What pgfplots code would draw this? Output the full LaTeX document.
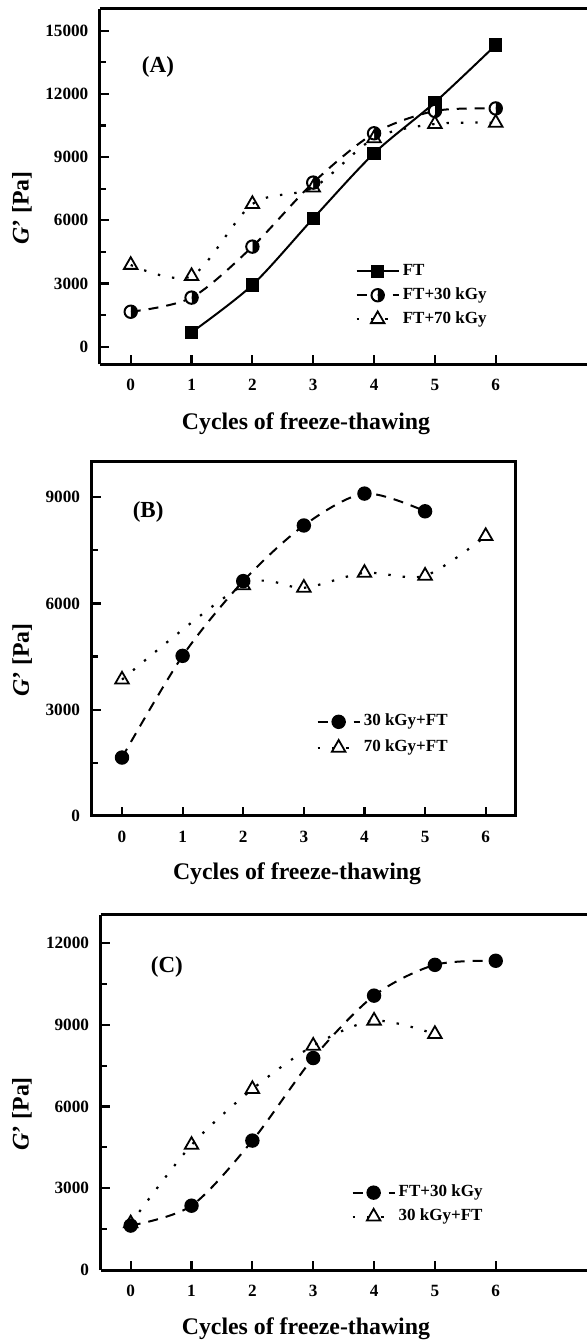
\documentclass[border=0pt]{standalone}
\usepackage{fontspec}
\setmainfont{Liberation Serif}
\usepackage{pgfplots}
\pgfplotsset{compat=1.18}
\usetikzlibrary{plotmarks}

\pgfplotsset{
  panel/.style={
    scale only axis, anchor=south west,
    tick align=inside,
    axis line style={line width=1.5pt},
    major tick length=4.5pt, minor tick length=3pt,
    every tick/.style={black, line width=1.1pt},
    xtick={0,1,2,3,4,5,6},
    minor y tick num=1,
    tick pos=left,
    scaled y ticks=false,
    /pgf/number format/1000 sep={},
    /pgf/number format/assume math mode=true,
    ticklabel style={font=\bfseries\fontsize{8.6}{9}\selectfont},
    xticklabel style={yshift=-4pt},
    yticklabel style={xshift=-2.3pt},
    xlabel={Cycles of freeze-thawing},
    ylabel={\textit{G}' [Pa]},
    label style={font=\bfseries\fontsize{11.9}{13}\selectfont},
    legend cell align=left,
    legend style={draw=none, fill=none, anchor=north west, inner sep=0pt,
      font=\bfseries\fontsize{8.5}{10}\selectfont,
      nodes={inner sep=1.5pt, text height=6pt, text depth=2pt}},
  },
  sA/.style={black, line width=1pt, smooth, mark=square*, mark size=2.8pt, mark options={solid}},
  sHalf/.style={black, line width=1pt, smooth, dash pattern=on 5pt off 4pt, mark=halfcircle*, mark size=3.1pt, mark options={solid, rotate=-90, fill=black}},
  sCirc/.style={black, line width=1pt, smooth, dash pattern=on 5pt off 4pt, mark=*, mark size=3.1pt, mark options={solid, fill=black}},
  sTri/.style={black, line width=1.1pt, smooth, dash pattern=on 1.2pt off 6pt, mark=triangle, mark size=3.9pt, mark options={solid, line width=0.9pt}},
}

\begin{document}
\begin{tikzpicture}
\path[use as bounding box] (0,0) rectangle (293.5pt,670.5pt);

% ---------------- Panel A ----------------
\begin{axis}[panel,
  at={(50pt,488.35pt)}, width=243.5pt, height=177.65pt,
  axis x line*=box, axis y line*=left,
  xmin=-0.505, xmax=7.5, ymin=-835, ymax=16030,
  ytick={0,3000,6000,9000,12000,15000},
  xlabel style={at={(axis description cs:0.423,-0.166)}, anchor=center},
  ylabel style={at={(axis description cs:-0.160,0.44)}, anchor=center},
  legend style={at={(rel axis cs:0.524,0.294)}, row sep=1pt},
  legend image code/.code={\draw[mark repeat=2,mark phase=2,#1] plot coordinates {(0pt,0pt) (10.5pt,0pt) (21pt,0pt)};},
]
\addplot[sA] coordinates {(1,680) (2,2930) (3,6090) (4,9180) (5,11600) (6,14320)};
\addlegendentry{FT}
\addplot[sHalf] coordinates {(0,1660) (1,2330) (2,4750) (3,7790) (4,10130) (5,11190) (6,11310)};
\addlegendentry{FT+30 kGy}
\addplot[sTri] coordinates {(0,3880) (1,3350) (2,6770) (3,7550) (4,9890) (5,10570) (6,10630)};
\addlegendentry{FT+70 kGy}
\node[font=\bfseries\fontsize{11.5}{13}\selectfont] at (rel axis cs:0.119,0.837) {(A)};
\end{axis}

% ---------------- Panel B ----------------
\begin{axis}[panel,
  at={(45.85pt,262.5pt)}, width=212.15pt, height=177.15pt,
  xmin=-0.5, xmax=6.5, ymin=0, ymax=10000,
  ytick={0,3000,6000,9000},
  xlabel style={at={(axis description cs:0.484,-0.163)}, anchor=center},
  ylabel style={at={(axis description cs:-0.164,0.44)}, anchor=center},
  legend style={at={(rel axis cs:0.529,0.298)}, row sep=2pt},
  legend image code/.code={\draw[mark repeat=2,mark phase=2,#1] plot coordinates {(0pt,0pt) (10.5pt,0pt) (21pt,0pt)};},
]
\addplot[sCirc] coordinates {(0,1650) (1,4520) (2,6630) (3,8200) (4,9100) (5,8600)};
\addlegendentry{30 kGy+FT}
\addplot[sTri] coordinates {(0,3850) (2,6510) (3,6440) (4,6860) (5,6780) (6,7900)};
\addlegendentry{70 kGy+FT}
\node[font=\bfseries\fontsize{11.5}{13}\selectfont] at (rel axis cs:0.133,0.858) {(B)};
\end{axis}

% ---------------- Panel C ----------------
\begin{axis}[panel,
  at={(50.35pt,35.5pt)}, width=243.15pt, height=177.5pt,
  axis x line*=box, axis y line*=left,
  xmin=-0.493, xmax=7.5, ymin=0, ymax=13030,
  ytick={0,3000,6000,9000,12000},
  xlabel style={at={(axis description cs:0.422,-0.165)}, anchor=center},
  ylabel style={at={(axis description cs:-0.162,0.44)}, anchor=center},
  legend style={at={(rel axis cs:0.515,0.25)}, row sep=1pt},
  legend image code/.code={\draw[mark repeat=2,mark phase=2,#1] plot coordinates {(0pt,0pt) (10.5pt,0pt) (21pt,0pt)};},
]
\addplot[sCirc] coordinates {(0,1630) (1,2360) (2,4750) (3,7780) (4,10070) (5,11200) (6,11350)};
\addlegendentry{FT+30 kGy}
\addplot[sTri] coordinates {(0,1710) (1,4590) (2,6640) (3,8230) (4,9150) (5,8660)};
\addlegendentry{30 kGy+FT}
\node[font=\bfseries\fontsize{11.5}{13}\selectfont] at (rel axis cs:0.136,0.854) {(C)};
\end{axis}
\end{tikzpicture}
\end{document}
